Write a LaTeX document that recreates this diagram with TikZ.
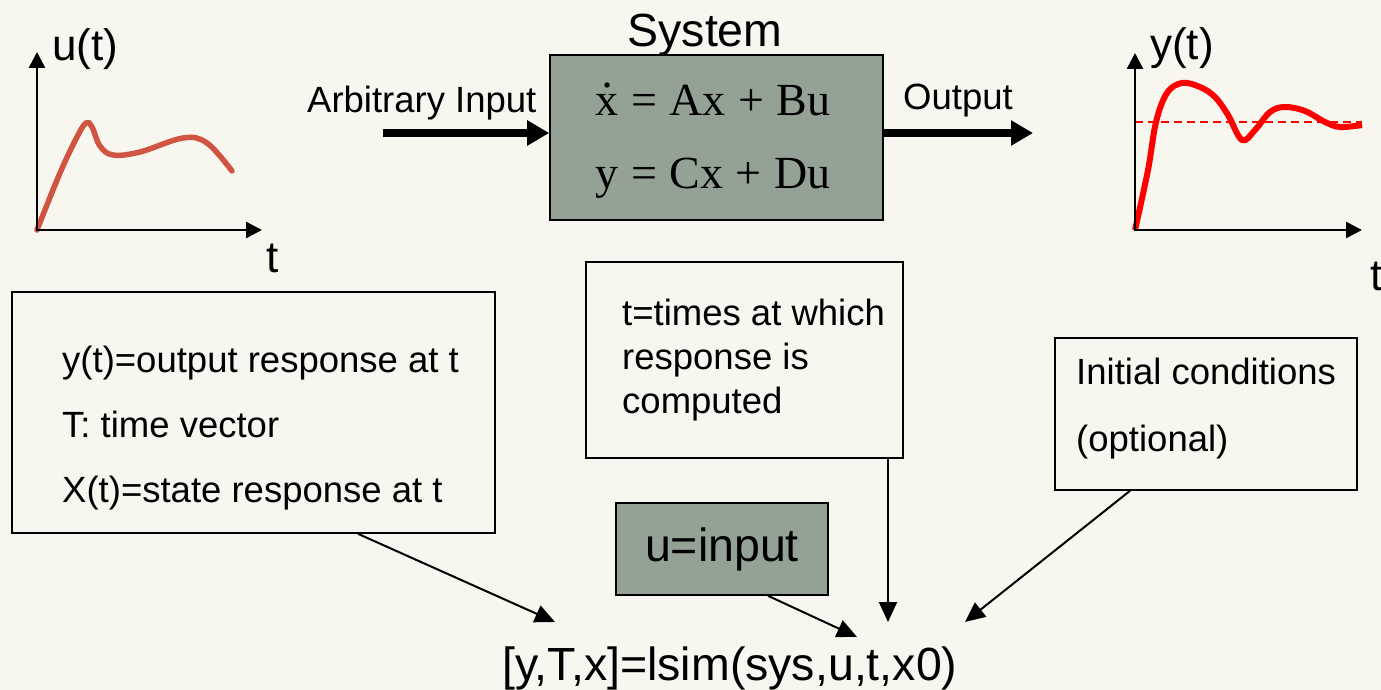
\documentclass[tikz,border=0pt]{standalone}
\usepackage{fontspec}
\setmainfont{Liberation Sans}
\newfontfamily\serifeq{Liberation Serif}
\usetikzlibrary{arrows.meta,calc}
\definecolor{bgcol}{HTML}{F7F7EF}
\definecolor{sysgray}{HTML}{94A296}
\definecolor{ucurve}{HTML}{D05442}
\begin{document}
\begin{tikzpicture}[x=1pt,y=-1pt,
  txt/.style={inner sep=0pt, anchor=base west, font=\fontsize{36.5}{44}\selectfont},
  big/.style={inner sep=0pt, font=\fontsize{46.5}{56}\selectfont},
  glab/.style={inner sep=0pt, anchor=base west, font=\fontsize{44}{50}\selectfont},
  eqn/.style={inner sep=0pt, anchor=base, font=\serifeq\fontsize{46}{54}\selectfont},
  infobox/.style={draw=black, line width=1.6pt, inner sep=0pt},
  sysbox/.style={draw=black, line width=1.6pt, fill=sysgray, inner sep=0pt},
  axis/.style={line width=2.6pt, line join=miter, {Triangle[length=16pt,width=16pt]}-{Triangle[length=16pt,width=16pt]}},
  fat/.style={line width=8pt, -{Triangle[length=22pt,width=24pt]}},
  thinarrow/.style={line width=2pt, -{Triangle[length=20pt,width=18pt]}}
]
\useasboundingbox (0,0) rectangle (1381,690);
\fill[bgcol] (0,0) rectangle (1381,690);

% ---- u(t) graph
\coordinate (uo) at (37,230);
\coordinate (uy) at (37,52);
\coordinate (ux) at (262,230);
\draw[ucurve, line width=5.5pt, line cap=round] plot[smooth, tension=0.6] coordinates
  {(37,230) (60,173) (77,137) (86,123) (92,127) (100,146) (113,155) (140,152) (183,138) (207,143) (232,171)};
\draw[axis] (uy) -- (uo) -- (ux);
\node[glab] (ulab) at (52,61) {u(t)};
\node[glab] (utlab) at (266,272) {t};

% ---- y(t) graph
\coordinate (yo) at (1135,230);
\coordinate (yy) at (1135,53);
\coordinate (yx) at (1362,230);
\coordinate (ref0) at (1135,122);
\coordinate (ref1) at (1362,122);
\draw[red, line width=1.8pt, dash pattern=on 8pt off 5pt] (ref0) -- (ref1);
\draw[red, line width=6pt] plot[smooth, tension=0.6] coordinates
  {(1135,230) (1148,170) (1156,122) (1167,93) (1182,83) (1200,87) (1215,97) (1228,115) (1242,140) (1255,130) (1270,112) (1285,107) (1305,111) (1325,122) (1340,127) (1362,125)};
\draw[axis] (yy) -- (yo) -- (yx);
\node[glab] (ylab) at (1150,60) {y(t)};
\node[glab] (ytlab) at (1370,290) {t};

% ---- system block
\node[sysbox, minimum width=333pt, minimum height=165pt] (sys) at (716.5,137.5) {};
\node[big, anchor=base] (systitle) at (705,47) {System};
\node[eqn] (eq1) at (713,116) {x\hspace{.27em}=\hspace{.27em}Ax\hspace{.27em}+\hspace{.27em}Bu};
\fill ($(eq1.base west)+(11.5,-31)$) circle (2.7pt);
\node[eqn] (eq2) at (713,188) {y\hspace{.27em}=\hspace{.27em}Cx\hspace{.27em}+\hspace{.27em}Du};

\node[txt] (ain) at (307,113) {Arbitrary Input};
\node[txt] (aout) at (903,110) {Output};
\coordinate (fin) at (383,133);
\coordinate (fout) at (1033,133);
\draw[fat] (fin) -- (fin -| sys.west);
\draw[fat] (fin -| sys.east) -- (fout);

% ---- info boxes
\node[infobox, minimum width=483pt, minimum height=241pt] (lbox) at (253.5,412.5) {};
\node[txt] (l1) at (62,372) {y(t)=output response at t};
\node[txt] (l2) at (62,437) {T: time vector};
\node[txt] (l3) at (62,502) {X(t)=state response at t};

\node[infobox, minimum width=317pt, minimum height=196pt] (tbox) at (744.5,360) {};
\node[txt] (t1) at (622,325) {t=times at which};
\node[txt] (t2) at (622,369) {response is};
\node[txt] (t3) at (622,413) {computed};

\node[infobox, minimum width=302pt, minimum height=152pt] (ibox) at (1206,414) {};
\node[txt] (i1) at (1076,384) {Initial conditions};
\node[txt] (i2) at (1076,451) {(optional)};

\node[sysbox, big, minimum width=212pt, minimum height=92pt] (ubox) at (722,549) {u=input};

\node[big, anchor=base west] (lsim) at (502,680) {[y,T,x]=lsim(sys,u,t,x0)};

% ---- connectors
\coordinate (a1x) at (358,0);
\coordinate (a1e) at (555,622);
\coordinate (a2x) at (768,0);
\coordinate (a2e) at (857,637);
\coordinate (a3x) at (888,0);
\coordinate (a3e) at (888,622);
\coordinate (a4x) at (1130,0);
\coordinate (a4e) at (965,622);
\draw[thinarrow] (a1x |- lbox.south) -- (a1e);
\draw[thinarrow] (a2x |- ubox.south) -- (a2e);
\draw[thinarrow] (a3x |- tbox.south) -- (a3e);
\draw[thinarrow] (a4x |- ibox.south) -- (a4e);
\end{tikzpicture}
\end{document}
